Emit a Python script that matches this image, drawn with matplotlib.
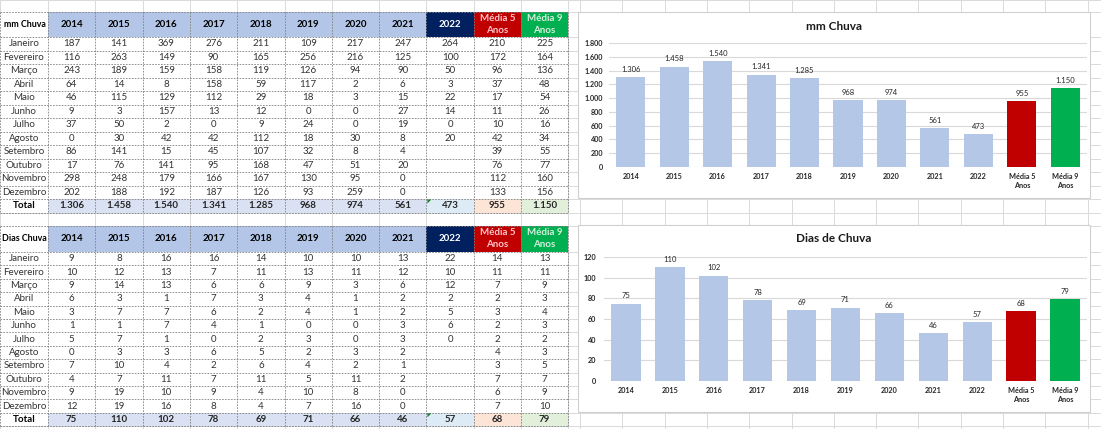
import matplotlib.pyplot as plt
from matplotlib.patches import Rectangle, Polygon
from matplotlib.ticker import FuncFormatter

plt.rcParams['font.family'] = ['Lato', 'DejaVu Sans']

W, H = 1101, 429

meses = ['Janeiro', 'Fevereiro', 'Março', 'Abril', 'Maio', 'Junho', 'Julho',
         'Agosto', 'Setembro', 'Outubro', 'Novembro', 'Dezembro']
colunas = ['2014', '2015', '2016', '2017', '2018', '2019', '2020', '2021',
           '2022', 'Média 5\nAnos', 'Média 9\nAnos']

# mm de chuva por mes (None = celula vazia)
mm_2014 = [187, 116, 243, 64, 46, 9, 37, 0, 86, 17, 298, 202]
mm_2015 = [141, 263, 189, 14, 115, 3, 50, 30, 141, 76, 248, 188]
mm_2016 = [369, 149, 159, 8, 129, 157, 2, 42, 15, 141, 179, 192]
mm_2017 = [276, 90, 158, 158, 112, 13, 0, 42, 45, 95, 166, 187]
mm_2018 = [211, 165, 119, 59, 29, 12, 9, 112, 107, 168, 167, 126]
mm_2019 = [109, 256, 126, 117, 18, 0, 24, 18, 32, 47, 130, 93]
mm_2020 = [217, 216, 94, 2, 3, 0, 0, 30, 8, 51, 95, 259]
mm_2021 = [247, 125, 90, 6, 15, 27, 19, 8, 4, 20, 0, 0]
mm_2022 = [264, 100, 50, 3, 22, 14, 0, 20, None, None, None, None]
mm_media5 = [210, 172, 96, 37, 17, 11, 10, 42, 39, 76, 112, 133]
mm_media9 = [225, 164, 136, 48, 54, 26, 16, 34, 55, 77, 160, 156]
mm_total = [1306, 1458, 1540, 1341, 1285, 968, 974, 561, 473, 955, 1150]

# dias de chuva por mes
dias_2014 = [9, 10, 9, 6, 3, 1, 5, 0, 7, 4, 9, 12]
dias_2015 = [8, 12, 14, 3, 7, 1, 7, 3, 10, 7, 19, 19]
dias_2016 = [16, 13, 13, 1, 7, 7, 1, 3, 4, 11, 10, 16]
dias_2017 = [16, 7, 6, 7, 6, 4, 0, 6, 2, 7, 9, 8]
dias_2018 = [14, 11, 6, 3, 2, 1, 2, 5, 6, 11, 4, 4]
dias_2019 = [10, 13, 9, 4, 4, 0, 3, 2, 4, 5, 10, 7]
dias_2020 = [10, 11, 3, 1, 1, 0, 0, 3, 2, 11, 8, 16]
dias_2021 = [13, 12, 6, 2, 2, 3, 3, 2, 1, 2, 0, 0]
dias_2022 = [22, 10, 12, 2, 5, 6, 0, None, None, None, None, None]
dias_media5 = [14, 11, 7, 2, 3, 2, 2, 4, 3, 7, 6, 7]
dias_media9 = [13, 11, 9, 3, 4, 3, 2, 3, 5, 7, 9, 10]
dias_total = [75, 110, 102, 78, 69, 71, 66, 46, 57, 68, 79]

mm_cols = [mm_2014, mm_2015, mm_2016, mm_2017, mm_2018, mm_2019, mm_2020,
           mm_2021, mm_2022, mm_media5, mm_media9]
dias_cols = [dias_2014, dias_2015, dias_2016, dias_2017, dias_2018, dias_2019,
             dias_2020, dias_2021, dias_2022, dias_media5, dias_media9]

# cores estilo excel
head_bg = ['#B4C6E7'] * 8 + ['#002060', '#C00000', '#00B050']
head_fg = ['black'] * 8 + ['white', '#FFC7CE', '#D8F0DC']
total_bg = ['#D9E1F2'] * 8 + ['#DDEBF7', '#FCE4D6', '#E2EFDA']
bar_cor = ['#B4C7E7'] * 9 + ['#C00000', '#00B050']
grade = '#DADADA'


def fmt(v):
    return f'{int(v):,}'.replace(',', '.')


col_x = [0, 48] + [48 + 47.3 * k for k in range(1, 12)]

fig = plt.figure(figsize=(W / 100, H / 100), dpi=100)
bg = fig.add_axes([0, 0, 1, 1])
bg.set_xlim(0, W)
bg.set_ylim(H, 0)
bg.axis('off')

# linhas de grade da planilha
row_y = [0, 12, 37] + [37 + 13.5 * k for k in range(1, 14)]
row_y += [225.5, 252] + [252 + 13.4 * k for k in range(1, 14)]
for y in row_y:
    bg.plot([0, W], [y, y], color=grade, lw=0.7, zorder=0)
sheet_x = col_x + [580 + 42.3 * k for k in range(0, 13)]
for x in sheet_x:
    bg.plot([x, x], [0, H], color=grade, lw=0.7, zorder=0)


def tabela(top, head_h, row_h, titulo, cols, totais):
    ys = [top, top + head_h] + [top + head_h + row_h * k for k in range(1, 14)]
    x_end = col_x[-1]
    # fundo branco
    bg.add_patch(Rectangle((0, top), x_end, ys[-1] - top, fc='white', ec='none', zorder=1))
    # cabecalho
    bg.text(col_x[1] / 2 + 0.5, (ys[0] + ys[1]) / 2, titulo, ha='center', va='center',
            fontsize=6.4, fontweight='bold', zorder=4)
    for j, nome in enumerate(colunas):
        x0, x1 = col_x[j + 1], col_x[j + 2]
        bg.add_patch(Rectangle((x0, ys[0]), x1 - x0, ys[1] - ys[0], fc=head_bg[j], ec='none', zorder=2))
        bg.text((x0 + x1) / 2, (ys[0] + ys[1]) / 2, nome, ha='center', va='center',
                fontsize=7, fontweight='bold', color=head_fg[j], linespacing=1.45, zorder=4)
    # meses
    for i, mes in enumerate(meses):
        yc = (ys[i + 1] + ys[i + 2]) / 2
        bg.text(col_x[1] / 2, yc, mes, ha='center', va='center', fontsize=7,
                color='#333333', zorder=4)
        for j, col in enumerate(cols):
            v = col[i]
            if v is None:
                continue
            bg.text((col_x[j + 1] + col_x[j + 2]) / 2, yc, fmt(v), ha='center',
                    va='center', fontsize=7, color='#333333', zorder=4)
    # total
    yc = (ys[13] + ys[14]) / 2
    bg.text(col_x[1] / 2, yc, 'Total', ha='center', va='center', fontsize=7,
            fontweight='bold', zorder=4)
    for j, v in enumerate(totais):
        x0, x1 = col_x[j + 1], col_x[j + 2]
        bg.add_patch(Rectangle((x0, ys[13]), x1 - x0, ys[14] - ys[13], fc=total_bg[j], ec='none', zorder=2))
        bg.text((x0 + x1) / 2, yc, fmt(v), ha='center', va='center', fontsize=7,
                fontweight='bold', color='#262626', zorder=4)
    # bordas tracejadas
    for y in ys:
        bg.plot([0, x_end], [y, y], color='#808080', lw=0.6, ls=(0, (2, 1.5)), zorder=3)
    for x in col_x:
        bg.plot([x, x], [ys[0], ys[-1]], color='#808080', lw=0.6, ls=(0, (2, 1.5)), zorder=3)
    # indicador verde do excel na celula total de 2022
    xg, yg = col_x[9], ys[13]
    bg.add_patch(Polygon([(xg + 1, yg + 0.5), (xg + 5, yg + 0.5), (xg + 1, yg + 4.5)],
                         fc='#1E7B34', ec='none', zorder=5))


tabela(12, 25, 13.5, 'mm Chuva', mm_cols, mm_total)
tabela(225.5, 26.5, 13.4, 'Dias Chuva', dias_cols, dias_total)


def grafico(box, area, titulo, valores, ymax, passo, ypad):
    bx0, by0, bx1, by1 = box
    bg.add_patch(Rectangle((bx0, by0), bx1 - bx0, by1 - by0, fc='white',
                           ec='#D0D0D0', lw=0.8, zorder=6))
    bg.text((bx0 + bx1) / 2, by0 + 14, titulo, ha='center', va='center',
            fontsize=8.5, fontweight='bold', color='#1A1A1A', zorder=7)
    ax0, ay0, ax1, ay1 = area
    ax = fig.add_axes([ax0 / W, 1 - ay1 / H, (ax1 - ax0) / W, (ay1 - ay0) / H])
    ax.patch.set_alpha(0)
    x = list(range(len(valores)))
    ax.bar(x, valores, width=0.67, color=bar_cor, zorder=2)
    for xi, v in zip(x, valores):
        ax.annotate(fmt(v), (xi, v), xytext=(0, 3), textcoords='offset points',
                    ha='center', va='bottom', fontsize=5.5, color='#262626')
    ax.set_xlim(-0.5, len(valores) - 0.5)
    ax.set_ylim(0, ymax)
    ax.set_yticks(range(0, ymax + 1, passo))
    ax.yaxis.set_major_formatter(FuncFormatter(lambda v, p: fmt(v)))
    ax.set_xticks(x)
    ax.set_xticklabels(colunas, linespacing=1.4)
    ax.grid(axis='y', color='#D9D9D9', lw=0.8, zorder=0)
    ax.set_axisbelow(True)
    for s in ax.spines.values():
        s.set_visible(False)
    ax.tick_params(axis='both', length=0, labelsize=5.2, labelcolor='#262626')
    ax.tick_params(axis='x', pad=4)
    ax.tick_params(axis='y', pad=ypad)
    for t in ax.get_xticklabels() + ax.get_yticklabels():
        t.set_fontweight('bold')
    return ax


grafico((578, 12, 1090, 198), (609, 43, 1087, 167), 'mm Chuva', mm_total, 1800, 200, 4.3)
grafico((578, 225, 1090, 412), (604, 257, 1087, 381), 'Dias de Chuva', dias_total, 120, 20, 5.8)

plt.savefig('out.png', dpi=100)
